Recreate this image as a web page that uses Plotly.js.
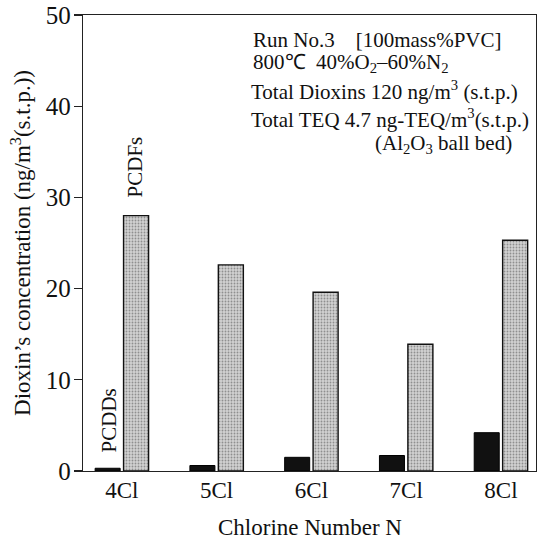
<!DOCTYPE html>
<html>
<head>
<meta charset="utf-8">
<script src="https://cdn.plot.ly/plotly-3.0.1.min.js"></script>
<style>html,body{margin:0;padding:0;background:#fff;}#chart{width:540px;height:539px;}</style>
</head>
<body>
<div id="chart"></div>
<script>
const categories = ["4Cl", "5Cl", "6Cl", "7Cl", "8Cl"];
const pcdds = [0.3, 0.6, 1.5, 1.7, 4.2];
const pcdfs = [28.0, 22.6, 19.6, 13.9, 25.3];
const yTicks = [0, 10, 20, 30, 40, 50];

const serif = "Liberation Serif, Times New Roman, serif";
const ink = "#111";

const traces = [
  {
    type: "bar", name: "PCDDs", x: categories, y: pcdds,
    marker: {color: "#111111", line: {color: "#000", width: 1}},
    hoverinfo: "x+y"
  },
  {
    type: "bar", name: "PCDFs", x: categories, y: pcdfs,
    marker: {
      color: "#cccccc",
      line: {color: "#111", width: 1.4},
      pattern: {shape: ".", fgcolor: "#8f8f8f", bgcolor: "#d2d2d2", size: 3, solidity: 0.3}
    },
    hoverinfo: "x+y"
  }
];

function note(x, y, text, anchor) {
  return {xref: "paper", yref: "paper", x: x, y: y, xanchor: anchor || "left", yanchor: "middle",
          showarrow: false, text: text, font: {family: serif, size: 21, color: ink}};
}

const layout = {
  width: 540, height: 539,
  margin: {l: 83, r: 4, t: 15, b: 68},
  paper_bgcolor: "#fff", plot_bgcolor: "#fff",
  showlegend: false,
  barmode: "group",
  bargap: 0.40,
  bargroupgap: 0.12,
  font: {family: serif, color: ink, size: 20},
  xaxis: {
    type: "category",
    range: [-0.41, 4.37],
    showline: true, linecolor: "#222", linewidth: 1.3, mirror: true,
    ticks: "", showgrid: false, zeroline: false,
    tickfont: {family: serif, size: 23, color: ink},
    ticklabelstandoff: -2
  },
  yaxis: {
    range: [0, 50],
    tickvals: yTicks,
    showline: true, linecolor: "#222", linewidth: 1.3, mirror: true,
    ticks: "outside", ticklen: 8, tickcolor: "#222", tickwidth: 1.3,
    showgrid: false, zeroline: false,
    tickfont: {family: serif, size: 25, color: ink},
    ticklabelstandoff: -2,
    title: {text: "Dioxin\u2019s concentration (ng/m<sup>3</sup>(s.t.p.))", font: {family: serif, size: 23, color: ink}, standoff: 8}
  },
  annotations: [
    note(0.371, 0.945, "Run No.3\u00a0\u00a0\u00a0\u00a0[100mass%PVC]"),
    note(0.371, 0.895, "800\u2103\u00a0\u00a040%O<sub>2</sub>\u201360%N<sub>2</sub>"),
    note(0.366, 0.834, "Total Dioxins 120 ng/m<sup>3</sup> (s.t.p.)"),
    note(0.366, 0.772, "Total TEQ 4.7 ng-TEQ/m<sup>3</sup>(s.t.p.)"),
    note(0.640, 0.717, "(Al<sub>2</sub>O<sub>3</sub> ball bed)"),
    {xref: "paper", yref: "paper", x: 0.502, y: -0.123, xanchor: "center", yanchor: "middle", showarrow: false,
     text: "Chlorine Number N", font: {family: serif, size: 23, color: ink}},
    {xref: "x", yref: "y", x: -0.14, y: 5.5, textangle: -90, showarrow: false,
     text: "PCDDs", font: {family: serif, size: 21, color: ink}},
    {xref: "x", yref: "y", x: 0.14, y: 33.3, textangle: -90, showarrow: false,
     text: "PCDFs", font: {family: serif, size: 21, color: ink}}
  ]
};

Plotly.newPlot("chart", traces, layout, {displayModeBar: false, staticPlot: true});
</script>
</body>
</html>
